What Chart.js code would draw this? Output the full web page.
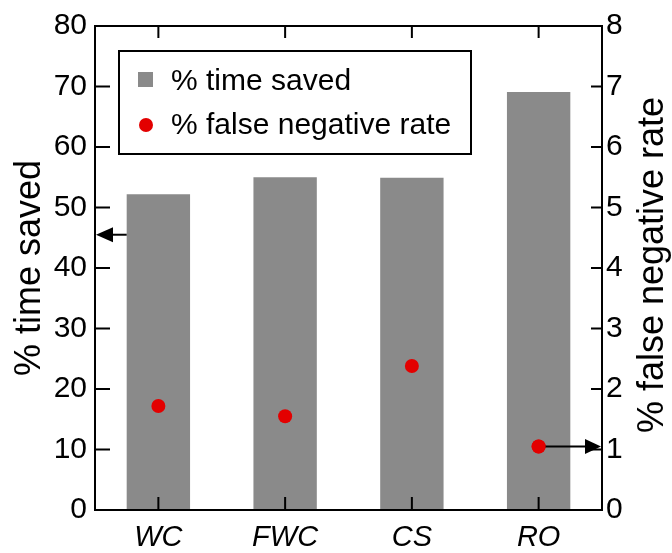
<!DOCTYPE html>
<html>
<head>
<meta charset="utf-8">
<script src="https://cdn.jsdelivr.net/npm/chart.js@4"></script>
<style>
  body { margin: 0; background: #fff; }
  #wrap { width: 672px; height: 553px; }
</style>
</head>
<body>
<div id="wrap"><canvas id="chart"></canvas></div>
<script>
// data
const methods = ['WC', 'FWC', 'CS', 'RO'];
const timeSaved = [52.2, 55.0, 54.9, 69.1];        // left axis, %
const falseNegRate = [1.72, 1.55, 2.38, 1.05];     // right axis, %
const leftTicks = [0, 10, 20, 30, 40, 50, 60, 70, 80];
const rightTicks = [0, 1, 2, 3, 4, 5, 6, 7, 8];
const leftArrowValue = 45.5;   // arrow pointing to the left axis
const rightArrowIndex = 3;     // RO point -> right axis
const rightTitle = '% false negative rate';

const FONT = '"Liberation Sans", Arial, Helvetica, sans-serif';
const barColor = '#8a8a8a';
const dotColor = '#e30000';

const framePlugin = {
  id: 'frame',
  afterDatasetsDraw(chart) {
    const { ctx, chartArea: a, scales } = chart;
    ctx.save();
    ctx.strokeStyle = '#000';
    ctx.fillStyle = '#000';
    ctx.lineWidth = 2;
    ctx.strokeRect(a.left, a.top, a.right - a.left, a.bottom - a.top);

    // inward ticks
    ctx.beginPath();
    leftTicks.forEach(v => {
      const py = scales.y.getPixelForValue(v);
      ctx.moveTo(a.left, py); ctx.lineTo(a.left + 15, py);
    });
    rightTicks.forEach(v => {
      const py = scales.y1.getPixelForValue(v);
      ctx.moveTo(a.right, py); ctx.lineTo(a.right - 11, py);
    });
    methods.forEach((m, i) => {
      const px = scales.x.getPixelForValue(i);
      ctx.moveTo(px, a.top); ctx.lineTo(px, a.top + 12);
      ctx.moveTo(px, a.bottom); ctx.lineTo(px, a.bottom - 13);
    });
    ctx.stroke();

    // left arrow: from first bar edge to left axis
    const bar = chart.getDatasetMeta(0).data[0];
    const ly = scales.y.getPixelForValue(leftArrowValue);
    ctx.beginPath();
    ctx.moveTo(bar.x - bar.width / 2, ly); ctx.lineTo(a.left + 14, ly);
    ctx.stroke();
    ctx.beginPath();
    ctx.moveTo(a.left + 1, ly); ctx.lineTo(a.left + 18, ly - 7.5); ctx.lineTo(a.left + 18, ly + 7.5);
    ctx.closePath(); ctx.fill();

    // right arrow: from RO point to right axis
    const pt = chart.getDatasetMeta(1).data[rightArrowIndex];
    ctx.beginPath();
    ctx.moveTo(pt.x, pt.y); ctx.lineTo(a.right - 12, pt.y);
    ctx.stroke();
    ctx.beginPath();
    ctx.moveTo(a.right - 1, pt.y); ctx.lineTo(a.right - 17, pt.y - 7.5); ctx.lineTo(a.right - 17, pt.y + 7.5);
    ctx.closePath(); ctx.fill();

    // redraw the point over the arrow line
    ctx.fillStyle = dotColor;
    ctx.beginPath(); ctx.arc(pt.x, pt.y, 7, 0, Math.PI * 2); ctx.fill();

    // legend box
    const bx = a.left + 24, by = a.top + 25;
    ctx.strokeStyle = '#000';
    ctx.strokeRect(bx, by, 352, 103);
    const ds = chart.data.datasets;
    ctx.fillStyle = barColor;
    ctx.fillRect(bx + 19, by + 21, 15, 15);
    ctx.fillStyle = dotColor;
    ctx.beginPath(); ctx.arc(bx + 27, by + 74, 7, 0, Math.PI * 2); ctx.fill();
    ctx.fillStyle = '#000';
    ctx.font = '30px ' + FONT;
    ctx.textBaseline = 'middle';
    ctx.fillText(ds[0].label, bx + 52, by + 31);
    ctx.fillText(ds[1].label, bx + 52, by + 75);

    // right axis title, reading bottom to top like the left one
    ctx.font = '36px ' + FONT;
    ctx.textAlign = 'center';
    ctx.translate(653, (a.top + a.bottom) / 2 - 3);
    ctx.rotate(-Math.PI / 2);
    ctx.fillText(rightTitle, 0, 0);
    ctx.restore();
  }
};

const ctx = document.getElementById('chart').getContext('2d');
new Chart(ctx, {
  type: 'bar',
  data: {
    labels: methods,
    datasets: [{
      type: 'bar',
      label: '% time saved',
      data: timeSaved,
      yAxisID: 'y',
      backgroundColor: barColor,
      barPercentage: 0.5,
      categoryPercentage: 1,
      order: 2
    }, {
      type: 'line',
      label: '% false negative rate',
      data: falseNegRate,
      yAxisID: 'y1',
      showLine: false,
      pointRadius: 7,
      pointBackgroundColor: dotColor,
      pointBorderWidth: 0,
      borderColor: dotColor,
      order: 1
    }]
  },
  options: {
    responsive: true,
    maintainAspectRatio: false,
    animation: false,
    layout: { padding: { top: 22, left: 0, right: 0, bottom: 0 } },
    plugins: { legend: { display: false }, tooltip: { enabled: false } },
    scales: {
      x: {
        offset: true,
        grid: { display: false, drawTicks: false },
        border: { display: false },
        ticks: {
          color: '#000', padding: 11, maxRotation: 0, autoSkip: false,
          font: { family: FONT, size: 29, style: 'italic' }
        },
        afterFit: s => { s.height = 43; }
      },
      y: {
        position: 'left', min: 0, max: 80,
        grid: { display: false, drawTicks: false },
        border: { display: false },
        afterBuildTicks: s => { s.ticks = leftTicks.map(v => ({ value: v })); },
        ticks: { color: '#000', padding: 8, font: { family: FONT, size: 30 } },
        title: {
          display: true, text: '% time saved', color: '#000',
          padding: { top: 12, bottom: 0 },
          font: { family: FONT, size: 36, lineHeight: 1 }
        },
        afterFit: s => { s.width = 95; }
      },
      y1: {
        position: 'right', min: 0, max: 8,
        grid: { display: false, drawTicks: false },
        border: { display: false },
        afterBuildTicks: s => { s.ticks = rightTicks.map(v => ({ value: v })); },
        ticks: { color: '#000', padding: 4, font: { family: FONT, size: 30 } },
        afterFit: s => { s.width = 70; }
      }
    }
  },
  plugins: [framePlugin]
});
</script>
</body>
</html>
